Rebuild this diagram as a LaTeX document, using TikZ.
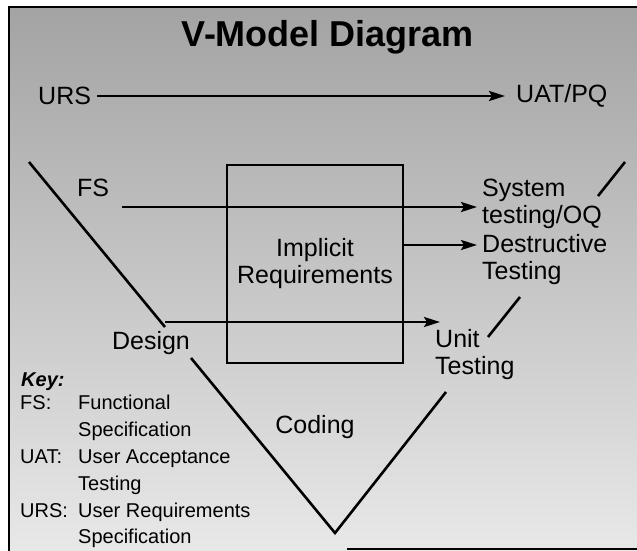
\documentclass[tikz,border=0pt]{standalone}
\usepackage{fontspec}
\setmainfont{Liberation Sans}
\usetikzlibrary{arrows.meta}

\tikzset{
  lbl/.style={inner sep=0pt, font=\fontsize{25}{27}\selectfont, align=left},
  keytxt/.style={inner sep=0pt, font=\fontsize{20}{26.8}\selectfont},
  arr/.style={line width=2.6pt, -{Stealth[length=16pt,width=10pt,inset=3pt]}},
  vline/.style={line width=2.6pt},
}

\begin{document}
\begin{tikzpicture}[x=1pt,y=-1pt]
\useasboundingbox (0,0) rectangle (637,551);
\shade[top color=black!36, bottom color=black!9] (9,7) rectangle (637,551);
\draw[line width=1.8pt] (9,551) -- (9,7) -- (637,7);
\draw[line width=1.8pt] (347,549) -- (637,549);

\node[inner sep=0pt, font=\fontsize{36}{40}\selectfont\bfseries] (title) at (328,37) {V-Model Diagram};

% labels
\node[lbl, anchor=west] (urs) at (38,96) {URS};
\node[lbl, anchor=west] (uat) at (516,96) {UAT/PQ};
\node[lbl, anchor=west] (fs) at (77,188) {FS};
\node[lbl, anchor=west] (sys) at (482,204) {System\\testing/OQ};
\node[lbl, anchor=west] (destr) at (482,260) {Destructive\\Testing};
\node[lbl, anchor=west] (unit) at (435,355) {Unit\\Testing};
\node[lbl] (design) at (151,343) {Design};
\node[lbl] (coding) at (315,427) {Coding};
\node[lbl, draw, line width=2.6pt, align=center,
      minimum width=176pt, minimum height=198pt] (impl) at (315,264) {Implicit\\Requirements};

% the V
\coordinate (vl) at (29,162);
\coordinate (vb) at (335,533);
\coordinate (vr) at (625,162);
\coordinate (dsgA) at (165,327);
\coordinate (dsgB) at (191,358);
\coordinate (ur1) at (446,392);
\coordinate (ur2) at (488,337);
\coordinate (ur3) at (520,297);
\coordinate (ur4) at (598,196);
\draw[vline] (vl) -- (dsgA) (dsgB) -- (vb) -- (ur1) (ur2) -- (ur3) (ur4) -- (vr);

% arrows
\draw[arr, shorten <=6pt, shorten >=11pt] (urs.east) -- (uat.west);
\coordinate (fsarr) at (122,207);
\draw[arr, shorten >=5pt] (fsarr) -- (fsarr -| sys.west);
\draw[arr, shorten >=5pt] (impl.east |- 0,245) -- (destr.west |- 0,245);
\draw[arr] (dsgA |- 0,322) -- ([xshift=5pt]unit.west |- 0,322);

% key
\node[keytxt, anchor=west, font=\fontsize{20}{24}\selectfont\bfseries\itshape] (key) at (21,382) {Key:};
\node[keytxt, anchor=north west] (keytab) at (20,391) {%
  \begin{tabular}{@{}p{58pt}@{}l@{}}
  FS: & Functional\\
      & Specification\\
  UAT: & User Acceptance\\
      & Testing\\
  URS: & User Requirements\\
      & Specification
  \end{tabular}};
\end{tikzpicture}
\end{document}
